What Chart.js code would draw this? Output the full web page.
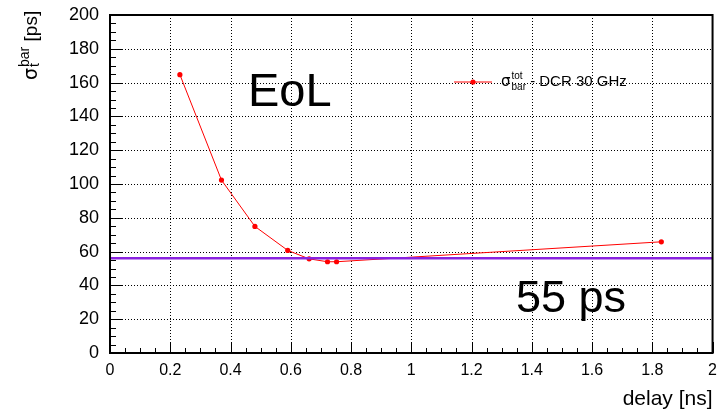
<!DOCTYPE html>
<html>
<head>
<meta charset="utf-8">
<script src="https://cdn.jsdelivr.net/npm/chart.js@4.4.1/dist/chart.umd.min.js"></script>
<style>
  html, body { margin: 0; padding: 0; background: #fff; }
</style>
</head>
<body>
<canvas id="delayChart" width="717" height="414"></canvas>
<script>
// data
const delayNs = [0.232, 0.370, 0.481, 0.590, 0.661, 0.722, 0.752, 1.830];
const sigmaPs = [164.7, 102.3, 74.9, 60.7, 55.7, 54.0, 54.0, 65.8];
const refLineX = [0, 2];
const refLineY = [56, 56];
const xRange = [0, 2];
const yRange = [0, 200];
const seriesLabel = ' - DCR 30 GHz';
const annotations = ['EoL', '55 ps'];

const FONT = '"Liberation Sans", Arial, Helvetica, sans-serif';
const GREEK = '"DejaVu Sans", "Liberation Sans", sans-serif';

// ROOT-like frame, dotted grid, ticks and the text bits with sub/superscripts
const rootFrame = {
    id: 'rootFrame',
    beforeDatasetsDraw(chart) {
        const { ctx, chartArea: a, scales: { x, y } } = chart;
        ctx.save();
        ctx.strokeStyle = '#000';
        ctx.lineWidth = 1;
        ctx.setLineDash([1, 2]);
        x.ticks.forEach(t => {
            if (t.value <= xRange[0] || t.value >= xRange[1]) return;
            const px = Math.round(x.getPixelForValue(t.value)) + 0.5;
            ctx.beginPath(); ctx.moveTo(px, a.top); ctx.lineTo(px, a.bottom); ctx.stroke();
        });
        y.ticks.forEach(t => {
            if (t.value <= yRange[0] || t.value >= yRange[1]) return;
            const py = Math.round(y.getPixelForValue(t.value)) + 0.5;
            ctx.beginPath(); ctx.moveTo(a.left, py); ctx.lineTo(a.right, py); ctx.stroke();
        });
        ctx.restore();
    },
    afterDatasetsDraw(chart) {
        const { ctx, chartArea: a, scales: { x, y } } = chart;
        ctx.save();
        ctx.strokeStyle = '#000';
        ctx.lineWidth = 1;
        // minor + major ticks, left and bottom only
        for (let v = yRange[0]; v <= yRange[1] + 1e-9; v += 5) {
            const py = Math.round(y.getPixelForValue(v)) + 0.5;
            const len = (Math.round(v) % 20 === 0) ? 12 : 6;
            ctx.beginPath(); ctx.moveTo(a.left, py); ctx.lineTo(a.left + len, py); ctx.stroke();
        }
        for (let i = 0; i <= 40; i++) {
            const v = i * 0.05;
            const px = Math.round(x.getPixelForValue(v)) + 0.5;
            const len = (i % 4 === 0) ? 11 : 5;
            ctx.beginPath(); ctx.moveTo(px, a.bottom); ctx.lineTo(px, a.bottom - len); ctx.stroke();
        }
        // frame
        ctx.lineWidth = 2;
        ctx.strokeRect(a.left, a.top, a.right - a.left, a.bottom - a.top);

        ctx.fillStyle = '#000';
        ctx.textBaseline = 'alphabetic';
        ctx.textAlign = 'left';

        // big labels inside the pad
        ctx.font = '47px ' + FONT;
        ctx.fillText(annotations[0], a.left + 138, a.top + 91);
        ctx.font = '45px ' + FONT;
        ctx.fillText(annotations[1], a.left + 406, a.top + 297);

        // legend entry
        const ly = a.top + 67;
        ctx.strokeStyle = '#ff0000';
        ctx.lineWidth = 1;
        ctx.beginPath(); ctx.moveTo(a.left + 344, ly); ctx.lineTo(a.left + 382, ly); ctx.stroke();
        ctx.fillStyle = '#ff0000';
        ctx.beginPath(); ctx.arc(a.left + 363, ly, 2.6, 0, Math.PI * 2); ctx.fill();
        ctx.fillStyle = '#000';
        let tx = a.left + 391;
        ctx.font = '15px ' + GREEK;
        ctx.fillText('σ', tx, ly + 4);
        tx += ctx.measureText('σ').width + 1;
        ctx.font = '10px ' + FONT;
        ctx.fillText('tot', tx, ly - 3);
        ctx.fillText('bar', tx, ly + 8);
        tx += Math.max(ctx.measureText('tot').width, ctx.measureText('bar').width);
        ctx.font = '15px ' + FONT;
        ctx.fillText(seriesLabel, tx, ly + 4);

        // y title, rotated
        ctx.save();
        ctx.translate(37, 80);
        ctx.rotate(-Math.PI / 2);
        ctx.font = '19px ' + GREEK;
        ctx.fillText('σ', 0, 0);
        let ox = ctx.measureText('σ').width + 1;
        ctx.font = '14px ' + FONT;
        ctx.fillText('t', ox, 2);
        ctx.fillText('bar', ox, -8);
        ox += Math.max(ctx.measureText('t').width, ctx.measureText('bar').width);
        ctx.font = '19px ' + FONT;
        ctx.fillText(' [ps]', ox, 0);
        ctx.restore();

        // x title, right aligned to the frame
        ctx.font = '21px ' + FONT;
        ctx.textAlign = 'right';
        ctx.fillText('delay [ns]', a.right, 405);
        ctx.restore();
    }
};

const points = delayNs.map((d, i) => ({ x: d, y: sigmaPs[i] }));
const refLine = refLineX.map((d, i) => ({ x: d, y: refLineY[i] }));

new Chart(document.getElementById('delayChart'), {
    type: 'scatter',
    data: {
        datasets: [
            {
                label: 'limit',
                data: refLine,
                showLine: true,
                borderColor: '#8a22e0',
                borderWidth: 2.5,
                pointRadius: 0,
                order: 0
            },
            {
                label: 'sigma',
                data: points,
                showLine: true,
                borderColor: '#ff0000',
                borderWidth: 1,
                backgroundColor: '#ff0000',
                pointRadius: 2.6,
                pointBorderWidth: 0,
                order: 1
            }
        ]
    },
    options: {
        responsive: false,
        devicePixelRatio: 1,
        animation: false,
        layout: { padding: { top: 15, right: 0, left: 0, bottom: 0 } },
        plugins: {
            legend: { display: false },
            tooltip: { enabled: false }
        },
        scales: {
            x: {
                type: 'linear',
                min: xRange[0],
                max: xRange[1],
                grid: { display: false },
                border: { display: false },
                afterFit: s => { s.height = 61; },
                ticks: {
                    stepSize: 0.2,
                    padding: 0,
                    color: '#000',
                    font: { family: FONT, size: 16 },
                    maxRotation: 0,
                    callback: v => String(+v.toFixed(1))
                }
            },
            y: {
                type: 'linear',
                min: yRange[0],
                max: yRange[1],
                grid: { display: false },
                border: { display: false },
                afterFit: s => { s.width = 110; },
                ticks: {
                    stepSize: 20,
                    padding: 3,
                    color: '#000',
                    font: { family: FONT, size: 18, lineHeight: 0.8 }
                }
            }
        }
    },
    plugins: [rootFrame]
});
</script>
</body>
</html>
